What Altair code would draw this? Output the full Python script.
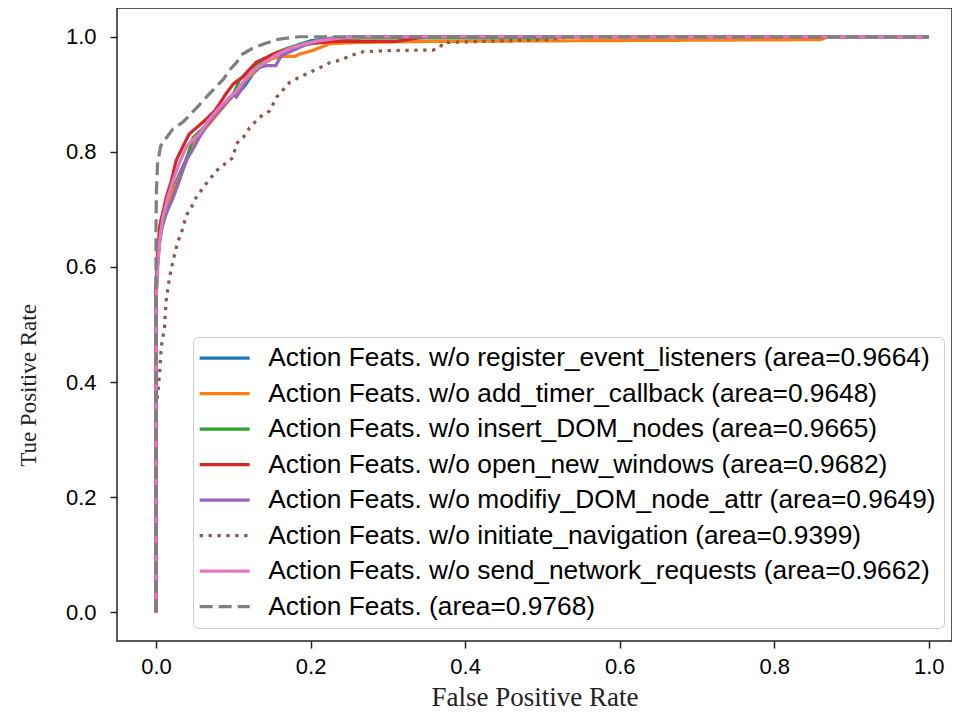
import altair as alt
import pandas as pd

labels = [
    "Action Feats. w/o register_event_listeners (area=0.9664)",
    "Action Feats. w/o add_timer_callback (area=0.9648)",
    "Action Feats. w/o insert_DOM_nodes (area=0.9665)",
    "Action Feats. w/o open_new_windows (area=0.9682)",
    "Action Feats. w/o modifiy_DOM_node_attr (area=0.9649)",
    "Action Feats. w/o initiate_navigation (area=0.9399)",
    "Action Feats. w/o send_network_requests (area=0.9662)",
    "Action Feats. (area=0.9768)",
]
colors = ["#1f77b4", "#ff7f0e", "#2ca02c", "#d62728", "#9467bd", "#8c564b", "#e377c2", "#7f7f7f"]
dashes = [[1, 0], [1, 0], [1, 0], [1, 0], [1, 0], [3.3, 5.6], [1, 0], [13, 6]]

fpr_register = [0, 0, 0.002, 0.006, 0.012, 0.02, 0.03, 0.04, 0.05, 0.06, 0.07, 0.08, 0.09, 0.1, 0.105, 0.115, 0.125, 0.14, 0.155, 0.17, 0.186, 0.2, 0.23, 0.26, 1.0]
tpr_register = [0, 0.55, 0.62, 0.68, 0.705, 0.73, 0.76, 0.79, 0.815, 0.835, 0.852, 0.868, 0.885, 0.9, 0.9, 0.915, 0.935, 0.955, 0.97, 0.978, 0.987, 0.993, 0.998, 1.0, 1.0]

fpr_timer = [0, 0, 0.002, 0.005, 0.01, 0.018, 0.028, 0.038, 0.048, 0.06, 0.07, 0.082, 0.095, 0.108, 0.12, 0.135, 0.15, 0.165, 0.18, 0.186, 0.2, 0.212, 0.225, 0.26, 0.36, 0.86, 0.87, 1.0]
tpr_timer = [0, 0.57, 0.63, 0.67, 0.70, 0.72, 0.75, 0.78, 0.81, 0.835, 0.85, 0.87, 0.89, 0.91, 0.93, 0.95, 0.962, 0.966, 0.966, 0.97, 0.975, 0.981, 0.988, 0.99, 0.992, 0.995, 1.0, 1.0]

fpr_insert = [0, 0, 0.003, 0.008, 0.013, 0.02, 0.03, 0.04, 0.048, 0.06, 0.07, 0.08, 0.09, 0.1, 0.108, 0.118, 0.128, 0.14, 0.155, 0.17, 0.19, 0.21, 0.24, 0.27, 0.5, 0.53, 1.0]
tpr_insert = [0, 0.55, 0.63, 0.67, 0.692, 0.715, 0.75, 0.79, 0.825, 0.84, 0.855, 0.87, 0.885, 0.9, 0.925, 0.937, 0.95, 0.962, 0.972, 0.98, 0.988, 0.993, 0.997, 0.998, 0.998, 1.0, 1.0]

fpr_open = [0, 0, 0.002, 0.005, 0.013, 0.02, 0.026, 0.035, 0.043, 0.055, 0.065, 0.075, 0.082, 0.09, 0.1, 0.112, 0.122, 0.13, 0.14, 0.152, 0.165, 0.18, 0.2, 0.23, 0.31, 0.35, 0.5, 1.0]
tpr_open = [0, 0.56, 0.62, 0.67, 0.72, 0.75, 0.785, 0.81, 0.831, 0.845, 0.857, 0.87, 0.883, 0.9, 0.918, 0.93, 0.945, 0.956, 0.962, 0.97, 0.976, 0.982, 0.988, 0.992, 0.992, 1.0, 1.0, 1.0]

fpr_modify = [0, 0, 0.002, 0.005, 0.009, 0.015, 0.022, 0.03, 0.039, 0.048, 0.056, 0.065, 0.078, 0.09, 0.0995, 0.104, 0.113, 0.121, 0.13, 0.143, 0.155, 0.162, 0.18, 0.195, 0.21, 0.229, 0.26, 1.0]
tpr_modify = [0, 0.54, 0.6, 0.65, 0.68, 0.7, 0.72, 0.75, 0.785, 0.805, 0.825, 0.845, 0.866, 0.885, 0.90, 0.895, 0.915, 0.937, 0.945, 0.95, 0.95, 0.967, 0.978, 0.987, 0.993, 0.998, 1.0, 1.0]

fpr_navigation = [0, 0, 0.0023, 0.0045, 0.0067, 0.011, 0.013, 0.0175, 0.022, 0.028, 0.033, 0.039, 0.048, 0.052, 0.065, 0.078, 0.09, 0.0995, 0.104, 0.117, 0.121, 0.134, 0.147, 0.156, 0.173, 0.186, 0.199, 0.21, 0.225, 0.24, 0.251, 0.268, 0.3, 0.359, 0.367, 0.372, 0.45, 0.51, 0.532, 0.6, 1.0]
tpr_navigation = [0, 0.36, 0.379, 0.414, 0.46, 0.495, 0.541, 0.582, 0.611, 0.643, 0.66, 0.689, 0.709, 0.721, 0.745, 0.767, 0.78, 0.79, 0.814, 0.831, 0.842, 0.86, 0.871, 0.895, 0.921, 0.93, 0.938, 0.945, 0.955, 0.96, 0.967, 0.974, 0.976, 0.977, 0.981, 0.99, 0.993, 0.995, 1.0, 1.0, 1.0]

fpr_network = [0, 0, 0.002, 0.005, 0.0088, 0.015, 0.022, 0.03, 0.039, 0.048, 0.056, 0.068, 0.082, 0.093, 0.104, 0.115, 0.125, 0.14, 0.155, 0.17, 0.19, 0.21, 0.24, 0.27, 1.0]
tpr_network = [0, 0.54, 0.6, 0.65, 0.686, 0.72, 0.75, 0.78, 0.808, 0.822, 0.831, 0.855, 0.877, 0.892, 0.906, 0.925, 0.941, 0.955, 0.968, 0.978, 0.987, 0.993, 0.998, 1.0, 1.0]

fpr_full = [0, 0, 0.0005, 0.002, 0.006, 0.012, 0.022, 0.035, 0.045, 0.055, 0.065, 0.077, 0.087, 0.097, 0.104, 0.112, 0.125, 0.14, 0.16, 0.185, 0.25, 0.4, 0.6, 0.8, 1.0]
tpr_full = [0, 0.67, 0.73, 0.78, 0.81, 0.822, 0.84, 0.852, 0.866, 0.88, 0.895, 0.912, 0.926, 0.945, 0.955, 0.97, 0.98, 0.988, 0.996, 1.0, 1.0, 1.0, 1.0, 1.0, 1.0]

series = [
    (fpr_register, tpr_register),
    (fpr_timer, tpr_timer),
    (fpr_insert, tpr_insert),
    (fpr_open, tpr_open),
    (fpr_modify, tpr_modify),
    (fpr_navigation, tpr_navigation),
    (fpr_network, tpr_network),
    (fpr_full, tpr_full),
]

rows = []
for lab, (fx, ty) in zip(labels, series):
    for i, (a, b) in enumerate(zip(fx, ty, strict=True)):
        rows.append({"label": lab, "fpr": a, "tpr": b, "idx": i})
df = pd.DataFrame(rows)

legend = alt.Legend(
    title=None, orient="none", legendX=76, legendY=329,
    fillColor="white", strokeColor="#cccccc", cornerRadius=5, padding=8,
    labelFontSize=26.3, labelFont="Liberation Sans", labelColor="black",
    symbolType="M-1.45,0H3.55", symbolSize=400, symbolStrokeWidth=3.2,
    rowPadding=8.5, labelOffset=41, labelLimit=1200,
)

chart = alt.Chart(df).mark_line(strokeWidth=3.2, clip=True).encode(
    x=alt.X("fpr:Q", scale=alt.Scale(domain=[-0.0505, 1.030], nice=False, zero=False),
            axis=alt.Axis(title="False Positive Rate", values=[0, 0.2, 0.4, 0.6, 0.8, 1.0], format=".1f",
                          titleY=64, titleBaseline="alphabetic", titleFontSize=27, labelPadding=8)),
    y=alt.Y("tpr:Q", scale=alt.Scale(domain=[-0.05, 1.05], nice=False, zero=False),
            axis=alt.Axis(title="Tue Positive Rate", values=[0, 0.2, 0.4, 0.6, 0.8, 1.0], format=".1f",
                          titleX=-89, titleY=377, titleAngle=270, titleBaseline="middle", titleAlign="center",
                          titleFontSize=23, labelPadding=14)),
    color=alt.Color("label:N", scale=alt.Scale(domain=labels, range=colors), sort=labels, legend=legend),
    strokeDash=alt.StrokeDash("label:N", scale=alt.Scale(domain=labels, range=dashes), sort=labels, legend=legend),
    order="idx:Q",
).properties(
    width=835, height=633,
    autosize=alt.AutoSizeParams(type="none"),
    padding={"left": 109, "top": 0, "right": 0, "bottom": 70},
).configure_view(
    stroke="#222222", strokeWidth=1.5
).configure_axis(
    grid=False, domain=False, tickSize=7, tickWidth=1.5, tickColor="#222222",
    labelFont="Liberation Sans", labelFontSize=22, labelColor="black",
    titleFont="Liberation Serif", titleFontWeight="normal", titleColor="#222222",
)

chart.save("out.html", embed_options={"renderer": "svg", "actions": False})
